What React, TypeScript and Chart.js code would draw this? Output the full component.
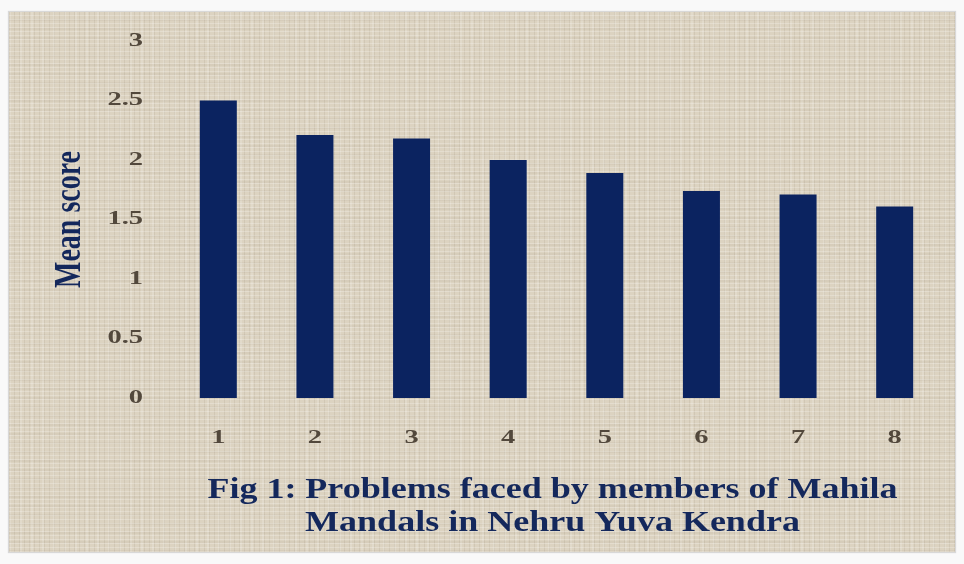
import React, { useEffect, useRef } from "react";
import { Chart, registerables } from "chart.js";

Chart.register(...registerables);

const categories = ["1", "2", "3", "4", "5", "6", "7", "8"];
const meanScores = [2.5, 2.21, 2.18, 2.0, 1.89, 1.74, 1.71, 1.61];
const yTickValues = [0, 0.5, 1, 1.5, 2, 2.5, 3];
const titleLines = [
  "Fig 1: Problems faced by members of Mahila",
  "Mandals in Nehru Yuva Kendra",
];
const yAxisTitle = "Mean score";

const NAVY = "#0b2360";
const TITLE_NAVY = "#14285c";
const TICK_COLOR = "#52483c";
const SERIF = "'Liberation Serif', 'Times New Roman', serif";

// Draws axis labels and titles with the horizontal stretch seen in the reference
const textPlugin = {
  id: "stretchedText",
  afterDraw(chart: any) {
    const { ctx, chartArea } = chart;
    const xs = chart.scales.x;
    const ys = chart.scales.y;
    ctx.save();

    // y tick labels
    ctx.fillStyle = TICK_COLOR;
    ctx.font = `bold 19px ${SERIF}`;
    ctx.textAlign = "right";
    ctx.textBaseline = "middle";
    yTickValues.forEach((v) => {
      const y = ys.getPixelForValue(v);
      ctx.save();
      ctx.translate(chartArea.left - 27, y);
      ctx.scale(1.5, 1);
      ctx.fillText(String(v), 0, 0);
      ctx.restore();
    });

    // x tick labels
    ctx.textAlign = "center";
    categories.forEach((c, i) => {
      const x = xs.getPixelForValue(i);
      ctx.save();
      ctx.translate(x, chartArea.bottom + 40);
      ctx.scale(1.5, 1);
      ctx.fillText(c, 0, 0);
      ctx.restore();
    });

    // y axis title
    ctx.fillStyle = TITLE_NAVY;
    ctx.font = `bold 28px ${SERIF}`;
    ctx.save();
    ctx.translate(chartArea.left - 100, (chartArea.top + chartArea.bottom) / 2);
    ctx.rotate(-Math.PI / 2);
    ctx.scale(1, 1.35);
    ctx.textAlign = "center";
    ctx.textBaseline = "middle";
    ctx.fillText(yAxisTitle, 0, 0);
    ctx.restore();

    // bottom caption
    ctx.font = `bold 30px ${SERIF}`;
    ctx.textAlign = "center";
    ctx.textBaseline = "alphabetic";
    const cx = (chartArea.left + chartArea.right) / 2 - 4;
    titleLines.forEach((line, i) => {
      ctx.save();
      ctx.translate(cx, chartArea.bottom + 100 + i * 33);
      ctx.scale(1.2, 1);
      ctx.fillText(line, 0, 0);
      ctx.restore();
    });

    ctx.restore();
  },
};

export default function App() {
  const ref = useRef<HTMLCanvasElement | null>(null);

  useEffect(() => {
    if (!ref.current) return;
    const chart = new Chart(ref.current, {
      type: "bar",
      data: {
        labels: categories,
        datasets: [
          {
            data: meanScores,
            backgroundColor: NAVY,
            borderWidth: 0,
            barPercentage: 0.383,
            categoryPercentage: 1,
          },
        ],
      },
      options: {
        animation: false,
        responsive: false,
        maintainAspectRatio: false,
        layout: { padding: { left: 161, right: 12, top: 29, bottom: 154 } },
        plugins: {
          legend: { display: false },
          tooltip: { enabled: false },
          title: { display: false },
        },
        scales: {
          x: {
            grid: { display: false, drawTicks: false },
            border: { display: false },
            ticks: { display: false },
          },
          y: {
            min: 0,
            max: 3,
            grid: { display: false, drawTicks: false },
            border: { display: false },
            ticks: { display: false, stepSize: 0.5 },
          },
        },
      },
      plugins: [textPlugin],
    });
    return () => chart.destroy();
  }, []);

  const texture =
    "repeating-linear-gradient(0deg, rgba(255,255,255,0.22) 0px, rgba(255,255,255,0.22) 1px, transparent 1px, transparent 4px)," +
    "repeating-linear-gradient(90deg, rgba(110,95,70,0.10) 0px, rgba(110,95,70,0.10) 1px, transparent 1px, transparent 5px)," +
    "repeating-linear-gradient(0deg, rgba(120,105,80,0.06) 0px, rgba(120,105,80,0.06) 2px, transparent 2px, transparent 9px)," +
    "repeating-linear-gradient(90deg, rgba(255,255,255,0.15) 0px, rgba(255,255,255,0.15) 2px, transparent 2px, transparent 11px)";

  return (
    <div
      style={{
        position: "absolute",
        left: 0,
        top: 0,
        width: 964,
        height: 564,
        background: "#f9f9f9",
        overflow: "hidden",
      }}
    >
      <div
        style={{
          position: "absolute",
          left: 9,
          top: 12,
          width: 946,
          height: 540,
          backgroundColor: "#dcd3c1",
          backgroundImage: texture,
          boxShadow: "0 0 1px 1px #d8d8d8",
        }}
      >
        <canvas ref={ref} width={946} height={540} style={{ display: "block" }} />
      </div>
    </div>
  );
}
